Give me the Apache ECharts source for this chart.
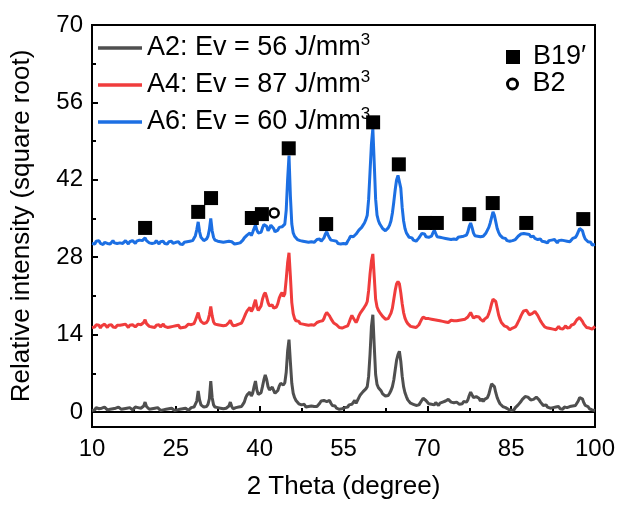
<!DOCTYPE html>
<html>
<head>
<meta charset="utf-8">
<script src="https://cdn.jsdelivr.net/npm/echarts@6/dist/echarts.min.js"></script>
<style>
html,body{margin:0;padding:0;background:#fff;}
#c{width:620px;height:505px;}
</style>
</head>
<body>
<div id="c"></div>
<script>
// 2θ sampling grid (degree)
const theta = [
10,10.25,10.5,10.75,11,11.25,11.5,11.75,12,12.25,12.5,12.75,13,13.25,13.5,13.75,14,14.25,14.5,14.75,
15,15.25,15.5,15.75,16,16.25,16.5,16.75,17,17.25,17.5,17.75,18,18.25,18.5,18.75,19,19.25,19.5,19.75,
20,20.25,20.5,20.75,21,21.25,21.5,21.75,22,22.25,22.5,22.75,23,23.25,23.5,23.75,24,24.25,24.5,24.75,
25,25.25,25.5,25.75,26,26.25,26.5,26.75,27,27.25,27.5,27.75,28,28.25,28.5,28.75,29,29.25,29.5,29.75,
30,30.25,30.5,30.75,31,31.25,31.5,31.75,32,32.25,32.5,32.75,33,33.25,33.5,33.75,34,34.25,34.5,34.75,
35,35.25,35.5,35.75,36,36.25,36.5,36.75,37,37.25,37.5,37.75,38,38.25,38.5,38.75,39,39.25,39.5,39.75,
40,40.25,40.5,40.75,41,41.25,41.5,41.75,42,42.25,42.5,42.75,43,43.25,43.5,43.75,44,44.25,44.5,44.75,
45,45.25,45.5,45.75,46,46.25,46.5,46.75,47,47.25,47.5,47.75,48,48.25,48.5,48.75,49,49.25,49.5,49.75,
50,50.25,50.5,50.75,51,51.25,51.5,51.75,52,52.25,52.5,52.75,53,53.25,53.5,53.75,54,54.25,54.5,54.75,
55,55.25,55.5,55.75,56,56.25,56.5,56.75,57,57.25,57.5,57.75,58,58.25,58.5,58.75,59,59.25,59.5,59.75,
60,60.25,60.5,60.75,61,61.25,61.5,61.75,62,62.25,62.5,62.75,63,63.25,63.5,63.75,64,64.25,64.5,64.75,
65,65.25,65.5,65.75,66,66.25,66.5,66.75,67,67.25,67.5,67.75,68,68.25,68.5,68.75,69,69.25,69.5,69.75,
70,70.25,70.5,70.75,71,71.25,71.5,71.75,72,72.25,72.5,72.75,73,73.25,73.5,73.75,74,74.25,74.5,74.75,
75,75.25,75.5,75.75,76,76.25,76.5,76.75,77,77.25,77.5,77.75,78,78.25,78.5,78.75,79,79.25,79.5,79.75,
80,80.25,80.5,80.75,81,81.25,81.5,81.75,82,82.25,82.5,82.75,83,83.25,83.5,83.75,84,84.25,84.5,84.75,
85,85.25,85.5,85.75,86,86.25,86.5,86.75,87,87.25,87.5,87.75,88,88.25,88.5,88.75,89,89.25,89.5,89.75,
90,90.25,90.5,90.75,91,91.25,91.5,91.75,92,92.25,92.5,92.75,93,93.25,93.5,93.75,94,94.25,94.5,94.75,
95,95.25,95.5,95.75,96,96.25,96.5,96.75,97,97.25,97.5,97.75,98,98.25,98.5,98.75,99,99.25,99.5,99.75,
100];

const a2 = [
0.3,0.6,0.4,0.8,0.5,0.6,0.3,0.7,0.5,0.9,0.6,0.4,0.7,0.5,0.8,0.6,0.3,0.7,0.6,0.9,
0.7,0.5,0.8,0.6,0.9,0.7,0.5,0.8,0.6,0.4,0.7,0.9,0.6,0.8,0.5,0.7,0.9,1.1,1.8,1.0,
0.7,0.5,0.8,0.6,0.4,0.7,0.5,0.8,0.6,0.3,0.6,0.4,0.7,0.5,0.3,0.6,0.4,0.7,0.5,0.3,
0.6,0.4,0.2,0.5,0.3,0.6,0.4,0.7,0.5,0.3,0.6,0.8,0.5,0.9,1.2,2.0,3.8,2.2,1.3,1.1,
0.9,0.8,1.0,1.4,2.4,5.6,2.6,1.3,0.9,0.6,0.8,0.5,0.7,0.4,0.6,0.3,0.7,0.9,1.1,1.8,
1.0,0.6,0.5,0.8,0.6,0.9,0.7,1.0,1.4,1.8,2.6,3.1,2.8,3.6,2.9,3.4,4.6,5.6,4.0,3.2,
3.0,3.5,4.6,5.8,6.7,5.9,4.6,4.0,3.8,4.5,3.9,3.4,3.6,3.9,4.7,5.2,5.4,4.9,5.3,7.2,
11.0,13.1,9.0,5.2,3.4,2.6,2.1,1.8,1.5,1.6,1.3,1.1,1.4,0.9,1.2,1.0,0.7,1.1,0.8,1.0,
0.7,1.0,1.3,1.6,2.0,2.3,2.1,2.3,1.9,1.7,2.1,1.6,1.2,0.9,1.1,0.7,0.9,0.5,0.8,0.6,
0.4,0.8,0.5,0.9,1.3,1.0,1.4,1.6,2.1,1.6,1.9,2.6,3.1,3.4,3.7,4.0,4.2,4.6,6.5,10.5,
15.5,17.6,12.0,6.8,5.0,4.4,4.1,3.8,3.3,3.1,2.9,3.2,3.0,3.4,3.9,4.6,5.8,7.6,9.4,10.4,
11.0,9.2,6.5,4.6,3.5,2.8,2.2,1.9,1.6,1.8,1.4,1.6,1.2,1.5,1.3,1.7,2.0,2.5,2.7,2.1,
1.8,1.5,1.8,1.4,1.6,1.3,1.7,1.5,1.2,1.6,1.4,1.8,1.6,2.0,2.2,2.3,2.1,1.8,2.0,1.7,
1.5,1.8,1.6,1.4,1.7,1.5,1.9,1.6,1.8,2.2,3.0,3.6,3.1,2.6,2.4,2.8,2.9,2.5,2.0,2.4,
1.9,2.3,2.0,2.6,3.2,4.2,5.1,5.4,4.6,3.5,2.6,2.0,1.5,1.3,1.0,1.2,0.8,0.9,0.5,0.7,
0.3,0.6,0.4,0.8,0.9,1.3,1.6,1.9,2.3,2.5,2.8,2.9,2.7,2.4,2.2,2.4,2.3,2.6,2.7,2.5,
2.2,1.8,1.5,1.2,1.0,1.3,0.9,1.1,0.7,1.0,0.8,0.6,0.9,0.7,1.0,0.6,0.8,0.5,0.9,0.7,
0.8,0.6,1.0,0.7,1.1,0.9,1.2,1.5,2.0,2.6,2.9,2.4,1.7,1.2,0.9,1.0,0.6,0.8,0.4,0.5,
0.3];

const a4 = [
15.3,15.6,15.4,15.8,15.5,15.7,15.2,15.6,15.4,15.9,15.6,15.3,15.7,15.5,15.8,15.4,15.6,15.3,15.7,15.5,
15.7,15.4,15.8,15.5,15.9,15.6,15.3,15.7,15.5,15.8,15.6,15.4,15.7,15.9,15.6,15.8,16.0,16.2,16.7,16.0,
15.7,15.5,15.8,15.4,15.6,15.3,15.7,15.5,15.8,15.4,15.6,15.9,15.5,15.7,15.3,15.6,15.4,15.7,15.5,15.3,
15.6,15.4,15.7,15.2,15.5,15.3,15.6,15.4,15.7,15.9,15.6,15.8,15.7,16.0,16.6,17.3,18.0,17.0,16.4,16.1,
16.0,15.8,16.2,16.6,17.6,19.1,17.4,16.3,15.9,15.6,15.8,15.5,15.7,15.4,15.6,15.3,15.7,15.9,16.2,16.6,
16.0,15.6,15.4,15.7,15.5,15.9,15.7,16.1,16.6,17.2,17.8,18.3,18.0,18.9,18.2,18.6,19.5,20.3,19.0,18.4,
18.6,19.2,20.4,21.2,21.6,20.8,19.8,19.2,19.0,19.4,18.8,18.6,19.0,19.6,20.6,21.2,21.6,20.9,21.4,24.0,
27.0,28.8,24.5,19.8,17.8,16.9,16.5,16.2,16.4,16.0,16.3,15.9,16.2,15.8,16.1,15.7,16.0,15.8,16.1,15.7,
15.9,16.2,16.0,16.4,16.1,16.5,16.9,17.6,18.0,17.8,17.4,16.9,16.5,16.1,16.3,15.8,15.6,15.3,15.6,15.2,
15.0,15.4,15.1,15.6,16.2,16.9,17.5,17.0,16.6,16.2,16.7,17.4,17.9,18.2,18.6,19.0,19.4,20.0,22.0,25.0,
27.3,28.6,24.5,20.4,19.0,18.4,18.0,17.8,17.3,17.0,16.8,17.1,16.9,17.4,17.9,18.8,20.4,22.0,23.2,23.6,
23.2,21.6,19.6,18.0,17.0,16.4,16.0,15.8,15.5,15.7,15.4,15.6,15.3,15.5,15.8,16.3,16.8,17.2,17.3,16.9,
16.7,16.9,16.6,16.8,16.5,16.7,16.4,16.6,16.3,16.5,16.2,16.4,16.1,16.3,16.5,16.2,16.4,16.6,16.3,16.5,
16.2,16.5,16.3,16.6,16.4,16.7,16.5,16.8,16.9,17.2,17.6,18.0,17.5,17.0,16.8,17.3,17.6,17.2,16.8,16.6,
16.4,16.8,16.6,17.2,17.8,18.6,19.6,20.4,20.7,20.0,18.8,17.6,16.8,16.2,15.9,15.6,15.8,15.4,15.2,14.9,
14.9,15.2,15.0,15.4,15.8,16.3,16.8,17.4,17.9,18.3,18.5,18.4,18.0,17.6,17.5,17.8,18.1,18.2,18.0,17.5,
17.0,16.5,16.1,15.8,15.4,15.6,15.2,15.5,15.1,15.4,15.0,15.3,14.9,15.2,15.5,15.1,15.4,15.0,15.3,15.6,
15.2,15.5,15.3,15.7,15.5,15.9,16.3,16.7,17.0,17.1,16.8,16.4,15.9,15.6,15.3,15.6,15.2,15.4,15.0,15.3,
15.5];

const a6 = [
30.5,30.8,30.4,30.9,30.6,31.0,30.5,30.8,30.3,30.7,30.9,30.5,30.8,30.4,30.7,31.0,30.6,30.9,30.5,30.8,
30.6,30.9,30.5,30.8,31.0,30.7,30.4,30.8,30.6,31.0,30.8,30.5,30.9,30.7,31.1,30.8,31.0,31.2,31.5,31.0,
30.8,30.6,30.9,30.5,30.8,30.6,31.0,30.7,30.4,30.8,30.6,30.9,30.5,30.7,30.4,30.8,30.6,30.9,30.5,30.3,
30.7,30.5,30.8,30.4,30.6,30.3,30.7,30.5,30.8,30.6,30.9,30.7,31.0,31.3,31.9,33.0,34.4,32.6,31.6,31.3,
31.0,30.9,31.3,31.8,33.0,35.0,32.8,31.6,31.1,30.8,30.9,30.6,30.8,30.5,30.7,30.4,30.8,30.6,30.9,31.1,
30.8,30.6,30.4,30.7,30.5,30.8,30.6,30.9,31.1,31.5,31.8,32.0,31.7,32.4,31.9,32.5,33.2,33.8,32.9,32.4,
32.2,32.5,33.3,33.9,34.2,33.6,32.8,33.2,33.8,34.0,33.2,32.6,32.4,32.9,33.4,33.1,33.5,33.2,34.0,36.5,
42.0,46.4,39.0,34.0,32.4,31.8,31.5,31.2,31.4,31.0,31.3,30.9,31.2,30.8,31.1,30.7,31.0,30.8,31.1,30.7,
30.9,31.2,31.0,31.3,30.9,31.2,31.5,32.2,32.6,32.0,31.5,31.1,30.8,31.0,30.7,30.9,30.5,30.8,30.4,30.7,
30.5,30.8,30.4,30.9,31.3,31.8,32.1,31.7,31.9,32.2,32.5,32.9,33.1,33.4,33.8,34.2,34.8,35.6,38.5,43.5,
48.5,51.3,45.0,38.5,35.6,34.6,34.0,33.6,33.2,33.0,32.8,33.0,33.3,33.8,34.6,36.0,38.0,40.2,42.0,42.8,
43.0,40.5,37.0,34.6,33.2,32.4,32.0,31.6,31.3,31.5,31.1,31.3,30.9,31.2,31.5,31.9,32.3,32.6,32.2,31.7,
31.4,31.6,31.3,31.8,32.4,32.9,32.3,31.7,31.4,31.6,31.3,31.5,31.2,31.4,31.1,31.3,31.6,31.2,31.5,31.3,
31.5,31.2,31.6,31.4,31.7,31.5,31.8,31.6,32.0,32.6,33.6,34.2,33.4,32.4,31.9,32.1,31.8,32.0,31.7,32.0,
31.8,32.1,32.4,32.9,33.4,34.2,35.2,36.2,35.6,34.4,33.2,32.5,32.0,31.7,31.5,31.2,31.4,31.0,31.2,30.9,
30.7,31.0,30.8,31.2,31.5,31.8,32.0,32.2,32.4,32.3,32.4,32.2,31.9,32.1,31.7,31.5,31.8,31.4,31.6,31.2,
31.0,31.3,30.9,31.2,30.8,31.1,30.6,31.0,30.7,31.1,30.8,31.2,30.9,30.6,31.0,30.7,31.1,30.8,31.0,30.7,
30.9,31.2,30.8,31.1,31.4,31.2,31.6,32.0,32.6,33.2,33.5,32.8,31.9,31.3,31.0,30.8,30.5,30.7,30.2,30.4,
30.3];

// phase markers
const b19Theta = [19.5,29.0,31.3,38.6,40.4,45.2,51.9,60.3,64.9,69.6,71.7,77.5,81.7,87.7,97.9];
const b19Y     = [33.3,36.2,38.7,35.1,35.8,47.7,34.0,52.4,44.8,34.2,34.2,35.8,37.8,34.2,34.9];
const b2Theta  = [42.6];
const b2Y      = [36.0];

const seriesNames = ['A2: Ev = 56 J/mm', 'A4: Ev = 87 J/mm', 'A6: Ev = 60 J/mm'];
const seriesColors = ['#4f4f4f', '#f03c3c', '#1c6fe3'];
const yTicks = [0, 14, 28, 42, 56, 70];
const yMinorTicks = [7, 21, 35, 49, 63];

const FONT = '"Liberation Sans", Arial, sans-serif';
const pair = (xs, ys) => xs.map((x, i) => [x, ys[i]]);
const values = [a2, a4, a6];

const chart = echarts.init(document.getElementById('c'), null, {renderer: 'canvas'});

const lineSeries = values.map((v, i) => ({
  name: seriesNames[i],
  type: 'line',
  data: pair(theta, v),
  showSymbol: false,
  symbol: 'none',
  silent: true,
  color: seriesColors[i],
  lineStyle: {width: 3, color: seriesColors[i]},
  z: 2 + i
}));

const option = {
  animation: false,
  backgroundColor: '#fff',
  textStyle: {fontFamily: FONT},
  grid: {left: 92, right: 25, top: 25, bottom: 77, show: true, borderColor: '#000', borderWidth: 2, backgroundColor: 'transparent'},
  legend: [
    {
      data: seriesNames,
      orient: 'vertical',
      left: 93, top: 27,
      icon: 'rect',
      itemWidth: 44, itemHeight: 3.5,
      itemGap: 5,
      formatter: n => n + '{sup|3}',
      textStyle: {
        fontFamily: FONT, fontSize: 27, color: '#000', lineHeight: 32,
        rich: {sup: {fontFamily: FONT, fontSize: 17, color: '#000', verticalAlign: 'top', lineHeight: 32}}
      }
    },
    {
      data: ['B19′'],
      left: 501, top: 36,
      icon: 'path://M0,0h10v10h-10z',
      itemWidth: 30, itemHeight: 14,
      itemStyle: {opacity: 1},
      textStyle: {fontFamily: FONT, fontSize: 27, color: '#000', lineHeight: 32}
    },
    {
      data: ['B2'],
      left: 501, top: 63,
      icon: 'circle',
      itemWidth: 30, itemHeight: 10,
      itemStyle: {opacity: 1, color: '#fff', borderColor: '#000', borderWidth: 3},
      textStyle: {fontFamily: FONT, fontSize: 27, color: '#000', lineHeight: 32}
    }
  ],
  xAxis: {
    type: 'value', min: 10, max: 100, interval: 15,
    name: '2 Theta (degree)', nameLocation: 'middle', nameGap: 47,
    nameTextStyle: {fontFamily: FONT, fontSize: 26, color: '#000'},
    axisLine: {lineStyle: {color: '#000', width: 2}},
    axisTick: {inside: true, length: 6, lineStyle: {color: '#000', width: 2}},
    minorTick: {show: true, splitNumber: 2, length: 4, lineStyle: {color: '#000', width: 2}},
    splitLine: {show: false},
    axisLabel: {fontFamily: FONT, fontSize: 24, color: '#000', margin: 10}
  },
  yAxis: [
    {
      type: 'value', min: -2.7, max: 70,
      name: 'Relative intensity (square root)', nameLocation: 'middle', nameGap: 57,
      nameTextStyle: {fontFamily: FONT, fontSize: 26, color: '#000'},
      axisLine: {show: true, lineStyle: {color: '#000', width: 2}},
      axisTick: {show: true, inside: true, length: 6, customValues: yTicks, lineStyle: {color: '#000', width: 2}},
      splitLine: {show: false},
      axisLabel: {fontFamily: FONT, fontSize: 24, color: '#000', margin: 9, customValues: yTicks}
    },
    {
      type: 'value', min: -2.7, max: 70, position: 'left',
      axisLine: {show: false},
      axisTick: {show: true, inside: true, length: 4, customValues: yMinorTicks, lineStyle: {color: '#000', width: 2}},
      axisLabel: {show: false},
      splitLine: {show: false}
    }
  ],
  series: [
    ...lineSeries,
    {
      name: 'B19′', type: 'scatter', data: pair(b19Theta, b19Y),
      symbol: 'rect', symbolSize: 14, silent: true, z: 10,
      itemStyle: {color: '#000', opacity: 1}
    },
    {
      name: 'B2', type: 'scatter', data: pair(b2Theta, b2Y),
      symbol: 'circle', symbolSize: 9, silent: true, z: 11,
      itemStyle: {color: '#fff', borderColor: '#000', borderWidth: 2.5, opacity: 1}
    }
  ]
};
chart.setOption(option);
</script>
</body>
</html>
